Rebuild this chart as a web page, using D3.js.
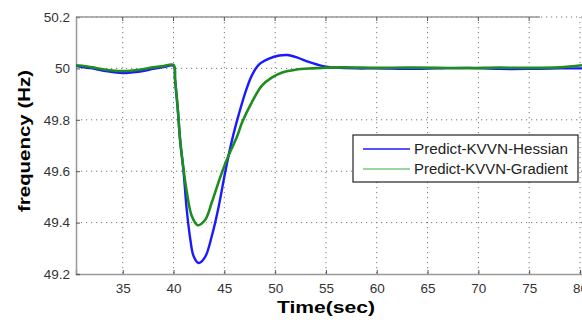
<!DOCTYPE html>
<html><head><meta charset="utf-8">
<script src="https://cdn.jsdelivr.net/npm/d3@7"></script>
<style>body{margin:0;background:#fff}svg{display:block}</style>
</head><body>
<script>
const xTicks = [35,40,45,50,55,60,65,70,75,80];
const yTicks = [49.2,49.4,49.6,49.8,50,50.2];
const seriesNames = ["Predict-KVVN-Hessian","Predict-KVVN-Gradient"];
const hessianT = [30.4,31,32,33,34,35,36,37,38,39,40,40.15,40.42,40.65,40.98,41.3,41.65,41.97,42.45,43.1,43.78,44.43,45.1,45.75,46.4,47.07,47.7,48.4,49.4,50.4,51.2,52.2,53.3,54.6,56,58,60,63,66,69,72,75,78,80.2];
const hessianV = [50.01,50.005,50.0,49.992,49.986,49.982,49.985,49.99,49.998,50.005,50.01,49.955,49.84,49.72,49.6,49.45,49.335,49.27,49.243,49.266,49.35,49.46,49.6,49.72,49.818,49.907,49.972,50.015,50.038,50.05,50.052,50.042,50.025,50.01,50.003,50.0,50.0,49.998,50.0,50.002,49.998,49.998,50.0,50.0];
const gradientT = [30.4,31,32,33,34,35,36,37,38,39,40,40.15,40.42,40.65,40.98,41.3,41.8,42.37,43.1,43.78,44.6,45.4,46.25,46.75,47.7,48.7,49.7,50.7,52.0,53.6,56.6,60,63,66,69,72,75,78,80.2];
const gradientV = [50.012,50.01,50.004,49.997,49.992,49.99,49.992,49.997,50.004,50.009,50.013,49.957,49.84,49.72,49.61,49.52,49.425,49.39,49.41,49.48,49.577,49.66,49.735,49.79,49.868,49.933,49.965,49.984,49.995,50.0,50.004,50.002,50.003,50.002,50.001,50.003,50.002,50.004,50.012];

const W = 582, H = 322;
const svg = d3.select("body").append("svg").attr("width", W).attr("height", H);
const x = d3.scaleLinear().domain([30.4, 80.2]).range([76, 582]);
const y = d3.scaleLinear().domain([49.2, 50.2]).range([274, 17]);

// grid
const grid = svg.append("g");
grid.selectAll("line.v").data(xTicks).enter().append("line")
  .attr("x1", d => x(d)).attr("x2", d => x(d)).attr("y1", 17).attr("y2", 274)
  .attr("stroke", "#777").attr("stroke-width", 1).attr("stroke-dasharray", "1.2,3.8");
grid.selectAll("line.h").data(yTicks.slice(1)).enter().append("line")
  .attr("x1", 76).attr("x2", 582).attr("y1", d => y(d)).attr("y2", d => y(d))
  .attr("stroke", "#777").attr("stroke-width", 1).attr("stroke-dasharray", "1.2,3.8");

// axes
const fontTick = "Liberation Sans, Arial, sans-serif";
const xa = svg.append("g").attr("transform", "translate(0,274)")
  .call(d3.axisBottom(x).tickValues(xTicks).tickSize(-4).tickPadding(9).tickFormat(d3.format("d")));
const ya = svg.append("g").attr("transform", "translate(76,0)")
  .call(d3.axisLeft(y).tickValues(yTicks).tickSize(-4).tickPadding(6).tickFormat(d => d === 50 ? "50" : d3.format(".1f")(d)));
[xa, ya].forEach(a => {
  a.select(".domain").attr("stroke", "#999").attr("stroke-width", 1.5);
  a.selectAll(".tick line").attr("stroke", "#555");
  a.selectAll(".tick text").attr("fill", "#333").style("font-family", fontTick).style("font-size", "13.5px");
});
// top border
svg.append("line").attr("x1", 76).attr("x2", 540).attr("y1", 17).attr("y2", 17)
  .attr("stroke", "#999").attr("stroke-width", 1.5);
svg.append("g").selectAll("line").data(xTicks.filter(d => x(d) < 540)).enter().append("line")
  .attr("x1", d => x(d)).attr("x2", d => x(d)).attr("y1", 17).attr("y2", 21).attr("stroke", "#555");

// lines
const line = d3.line().x(d => x(d[0])).y(d => y(d[1])).curve(d3.curveCatmullRom.alpha(0.5));
const hData = hessianT.map((t, i) => [t, hessianV[i]]);
const gData = gradientT.map((t, i) => [t, gradientV[i]]);
svg.append("clipPath").attr("id", "c").append("rect").attr("x", 76).attr("y", 17).attr("width", 506).attr("height", 257);
const plot = svg.append("g").attr("clip-path", "url(#c)");
plot.append("path").datum(hData).attr("d", line).attr("fill", "none").attr("stroke", "#1a1aff").attr("stroke-width", 2.4);
plot.append("path").datum(gData).attr("d", line).attr("fill", "none").attr("stroke", "#1e8c1e").attr("stroke-width", 2.6);

// labels
svg.append("text").attr("x", 326).attr("y", 313).attr("text-anchor", "middle")
  .attr("textLength", 98).attr("lengthAdjust", "spacingAndGlyphs")
  .style("font-family", fontTick).style("font-size", "16px").style("font-weight", "bold").text("Time(sec)");
svg.append("text").attr("transform", "translate(30,141) rotate(-90)").attr("text-anchor", "middle")
  .attr("textLength", 142).attr("lengthAdjust", "spacingAndGlyphs")
  .style("font-family", fontTick).style("font-size", "17px").style("font-weight", "bold").text("frequency (Hz)");

// legend
const lg = svg.append("g");
lg.append("rect").attr("x", 353).attr("y", 135).attr("width", 225).attr("height", 47)
  .attr("fill", "#fff").attr("stroke", "#222").attr("stroke-width", 1.2);
const legColors = ["#1a1aff", "#7cc87c"];
seriesNames.forEach((n, i) => {
  const yy = 149 + i * 20;
  lg.append("line").attr("x1", 363).attr("x2", 410).attr("y1", yy).attr("y2", yy).attr("stroke", legColors[i]).attr("stroke-width", 1.5);
  lg.append("text").attr("x", 414).attr("y", yy + 5).attr("textLength", 154).attr("lengthAdjust", "spacingAndGlyphs")
    .style("font-family", fontTick).style("font-size", "14px").attr("fill", "#222").text(n);
});
</script>
</body></html>
